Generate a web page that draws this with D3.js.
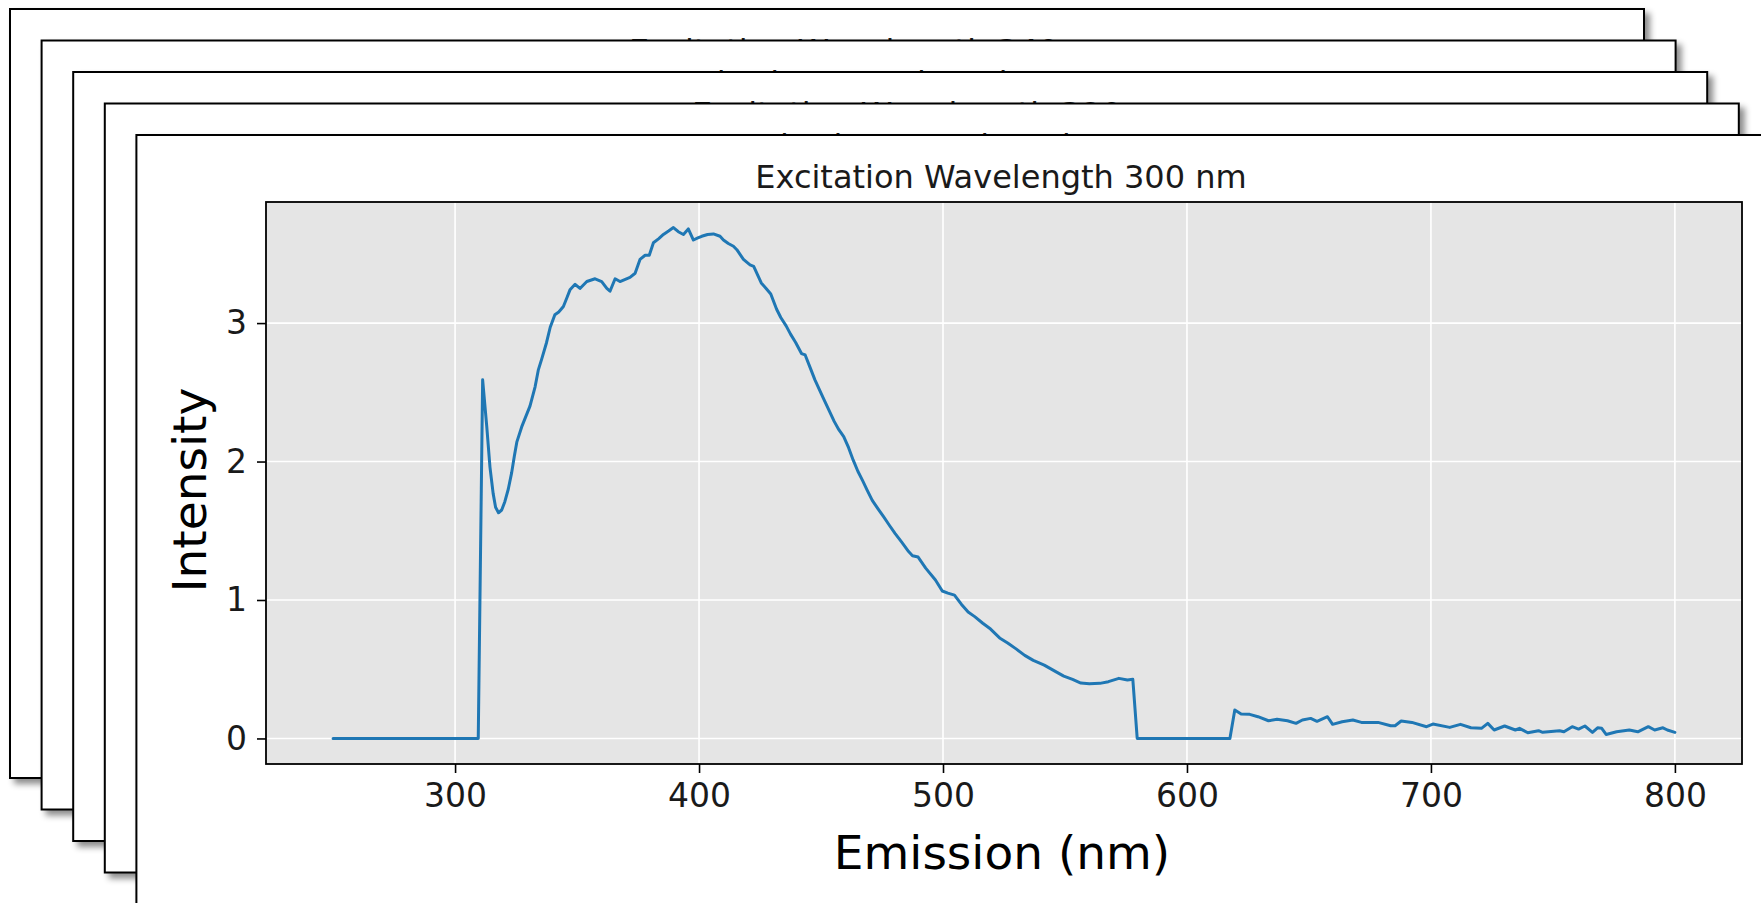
<!DOCTYPE html>
<html>
<head>
<meta charset="utf-8">
<script src="https://cdn.jsdelivr.net/npm/d3@7"></script>
<style>
  html, body { margin: 0; padding: 0; background: #ffffff; }
  svg { display: block; font-family: "DejaVu Sans", sans-serif; }
</style>
</head>
<body>
<svg id="chart" width="1761" height="903"></svg>
<script>
// ---------------- data ----------------
const backTitles = [
  "Excitation Wavelength 340 nm",
  "Excitation Wavelength 330 nm",
  "Excitation Wavelength 320 nm",
  "Excitation Wavelength 310 nm"
];
const frontTitle = "Excitation Wavelength 300 nm";
const xLabel = "Emission (nm)";
const yLabel = "Intensity";
const xTicks = [300, 400, 500, 600, 700, 800];
const yTicks = [0, 1, 2, 3];

const emission = [
  250, 270, 290, 309.5, 311.3, 313.0, 314.3, 315.6, 316.6, 317.8, 319.1, 320.4, 321.8, 323.2, 324.3, 325.3,
  327.3, 329.1, 330.7, 332.8, 334.1, 335.5, 337.5, 339.0, 340.9, 342.5, 344.4, 346.0, 347.1, 349.2,
  351.2, 354.0, 357.4, 360.1, 362.2, 363.5, 365.6, 367.6, 371.7, 373.8, 375.8, 377.9, 379.6, 381.3,
  383.5, 385.4, 387.5, 389.5, 391.5, 393.6, 395.6, 397.7, 399.5, 401.1, 403.5, 405.9, 408.6, 410.0,
  412.0, 414.1, 415.5, 418.2, 420.9, 422.4, 425.5, 427.5, 429.4, 431.8, 433.5, 435.7, 437.5, 439.6,
  442.0, 443.5, 445.5, 447.5, 450.6, 453.0, 455.4, 457.3, 459.3, 461.3, 463.2, 465.1, 467.1, 469.0,
  471.0, 473.3, 475.7, 478.0, 480.4, 483.0, 485.9, 487.5, 489.8, 492.9, 496.9, 499.7, 502.0, 504.7,
  507.5, 510.3, 513.0, 516.3, 519.5, 523.2, 526.5, 530.1, 533.5, 537.0, 541.5, 546.2, 549.5, 553.1,
  556.5, 560.0, 564.3, 567.8, 572.1, 575.6, 577.8, 579.6, 600, 617.6, 619.6, 622.2, 625.7, 629.1,
  633.4, 636.9, 641.2, 644.7, 647.3, 650.7, 653.3, 657.6, 659.7, 663.6, 668.0, 671.5, 678.3, 683.5,
  685.3, 687.8, 692.2, 698.2, 700.8, 707.7, 712.1, 716.4, 720.7, 723.3, 725.9, 730.2, 734.6, 736.3,
  739.7, 744.1, 745.8, 752.7, 754.5, 757.9, 760.5, 763.1, 766.2, 768.3, 770.0, 771.8, 776.1, 781.3,
  784.8, 789.1, 791.7, 795.1, 796.9, 800
];
const intensity = [
  0, 0, 0, 0, 2.59, 2.25, 1.96, 1.77, 1.67, 1.63, 1.65, 1.71, 1.80, 1.92, 2.04, 2.14,
  2.25, 2.33, 2.40, 2.54, 2.66, 2.74, 2.86, 2.97, 3.06, 3.08, 3.12, 3.19, 3.24, 3.28,
  3.25, 3.30, 3.32, 3.30, 3.25, 3.23, 3.32, 3.30, 3.33, 3.36, 3.46, 3.49, 3.49, 3.58,
  3.61, 3.64, 3.665, 3.69, 3.66, 3.64, 3.68, 3.60, 3.615, 3.627, 3.64, 3.644, 3.627, 3.60,
  3.575, 3.555, 3.53, 3.46, 3.42, 3.41, 3.29, 3.25, 3.21, 3.10, 3.04, 2.98, 2.92, 2.86,
  2.78, 2.77, 2.68, 2.59, 2.47, 2.38, 2.29, 2.23, 2.18, 2.10, 2.01, 1.93, 1.86, 1.79,
  1.72, 1.66, 1.60, 1.54, 1.48, 1.42, 1.35, 1.32, 1.31, 1.23, 1.145, 1.065, 1.05, 1.035,
  0.97, 0.913, 0.88, 0.832, 0.79, 0.726, 0.69, 0.645, 0.60, 0.564, 0.53, 0.483, 0.45, 0.426,
  0.40, 0.395, 0.398, 0.41, 0.434, 0.422, 0.427, 0, 0, 0, 0.205, 0.176, 0.174, 0.157,
  0.128, 0.138, 0.128, 0.109, 0.133, 0.145, 0.124, 0.157, 0.102, 0.121, 0.133, 0.116, 0.116, 0.092,
  0.092, 0.126, 0.116, 0.085, 0.104, 0.080, 0.102, 0.077, 0.073, 0.109, 0.061, 0.090, 0.061, 0.073,
  0.041, 0.056, 0.044, 0.056, 0.048, 0.085, 0.068, 0.090, 0.044, 0.077, 0.073, 0.029, 0.048, 0.061,
  0.048, 0.085, 0.061, 0.077, 0.061, 0.044
];

// ---------------- layout ----------------
const svg = d3.select("#chart");
const frameW = 1634, frameH = 769;
const frameStepX = 31.6, frameStepY = 31.5;
const frame0 = { x: 10, y: 9 };
const nFrames = backTitles.length + 1;
const axRel = { left: 129.6, top: 67, width: 1476, height: 562 };
const titleRelY = 53; // baseline

const defs = svg.append("defs");
const shadow = defs.append("filter").attr("id", "shadow")
  .attr("x", "-5%").attr("y", "-5%").attr("width", "115%").attr("height", "115%");
shadow.append("feDropShadow")
  .attr("dx", 5).attr("dy", 5).attr("stdDeviation", 3)
  .attr("flood-color", "#000").attr("flood-opacity", 0.45);

function frameOrigin(i) {
  return { x: frame0.x + i * frameStepX, y: frame0.y + i * frameStepY };
}

function drawFrame(i, title) {
  const o = frameOrigin(i);
  const g = svg.append("g").attr("transform", `translate(${o.x},${o.y})`);
  g.append("rect")
    .attr("x", 0).attr("y", 0).attr("width", frameW).attr("height", frameH)
    .attr("fill", "#ffffff").attr("stroke", "#000").attr("stroke-width", 2)
    .attr("filter", "url(#shadow)");
  g.append("text")
    .attr("x", axRel.left + axRel.width / 2 - 3)
    .attr("y", titleRelY)
    .attr("text-anchor", "middle")
    .attr("font-size", 32)
    .attr("fill", "#1a1a1a")
    .text(title);
  return g;
}

backTitles.forEach((t, i) => drawFrame(i, t));

const front = drawFrame(nFrames - 1, frontTitle);
const plot = front.append("g").attr("transform", `translate(${axRel.left},${axRel.top})`);

const xExt = d3.extent(emission);
const yExt = d3.extent(intensity);
const xPad = (xExt[1] - xExt[0]) * 0.05;
const yPad = (yExt[1] - yExt[0]) * 0.05;
const x = d3.scaleLinear().domain([xExt[0] - xPad, xExt[1] + xPad]).range([0, axRel.width]);
const y = d3.scaleLinear().domain([yExt[0] - yPad, yExt[1] + yPad]).range([axRel.height, 0]);

plot.append("rect")
  .attr("width", axRel.width).attr("height", axRel.height)
  .attr("fill", "#e5e5e5");

plot.append("g").selectAll("line").data(xTicks).join("line")
  .attr("x1", d => x(d)).attr("x2", d => x(d))
  .attr("y1", 0).attr("y2", axRel.height)
  .attr("stroke", "#ffffff").attr("stroke-width", 1.6);
plot.append("g").selectAll("line").data(yTicks).join("line")
  .attr("y1", d => y(d)).attr("y2", d => y(d))
  .attr("x1", 0).attr("x2", axRel.width)
  .attr("stroke", "#ffffff").attr("stroke-width", 1.6);

defs.append("clipPath").attr("id", "plotclip")
  .append("rect").attr("width", axRel.width).attr("height", axRel.height);

const series = emission.map((e, i) => ({ x: e, y: intensity[i] }));
plot.append("path")
  .datum(series)
  .attr("clip-path", "url(#plotclip)")
  .attr("fill", "none")
  .attr("stroke", "#1f77b4")
  .attr("stroke-width", 3)
  .attr("stroke-linejoin", "round")
  .attr("stroke-linecap", "round")
  .attr("d", d3.line().x(d => x(d.x)).y(d => y(d.y)));

plot.append("rect")
  .attr("width", axRel.width).attr("height", axRel.height)
  .attr("fill", "none").attr("stroke", "#000").attr("stroke-width", 1.8);

const xAxis = plot.append("g")
  .attr("transform", `translate(0,${axRel.height})`)
  .call(d3.axisBottom(x).tickValues(xTicks).tickSize(9).tickPadding(11).tickFormat(d3.format("d")));
const yAxis = plot.append("g")
  .call(d3.axisLeft(y).tickValues(yTicks).tickSize(9).tickPadding(10).tickFormat(d3.format("d")));
[xAxis, yAxis].forEach(a => {
  a.select(".domain").remove();
  a.selectAll(".tick line").attr("stroke", "#000").attr("stroke-width", 1.6);
  a.selectAll(".tick text")
    .attr("fill", "#1a1a1a")
    .attr("font-size", 33)
    .attr("font-family", "DejaVu Sans, sans-serif");
});

plot.append("text")
  .attr("x", axRel.width / 2 - 2)
  .attr("y", axRel.height + 105)
  .attr("text-anchor", "middle")
  .attr("font-size", 47)
  .attr("fill", "#000")
  .text(xLabel);
plot.append("text")
  .attr("transform", `translate(-60,${axRel.height / 2 + 7}) rotate(-90)`)
  .attr("text-anchor", "middle")
  .attr("font-size", 47)
  .attr("fill", "#000")
  .text(yLabel);
</script>
</body>
</html>
